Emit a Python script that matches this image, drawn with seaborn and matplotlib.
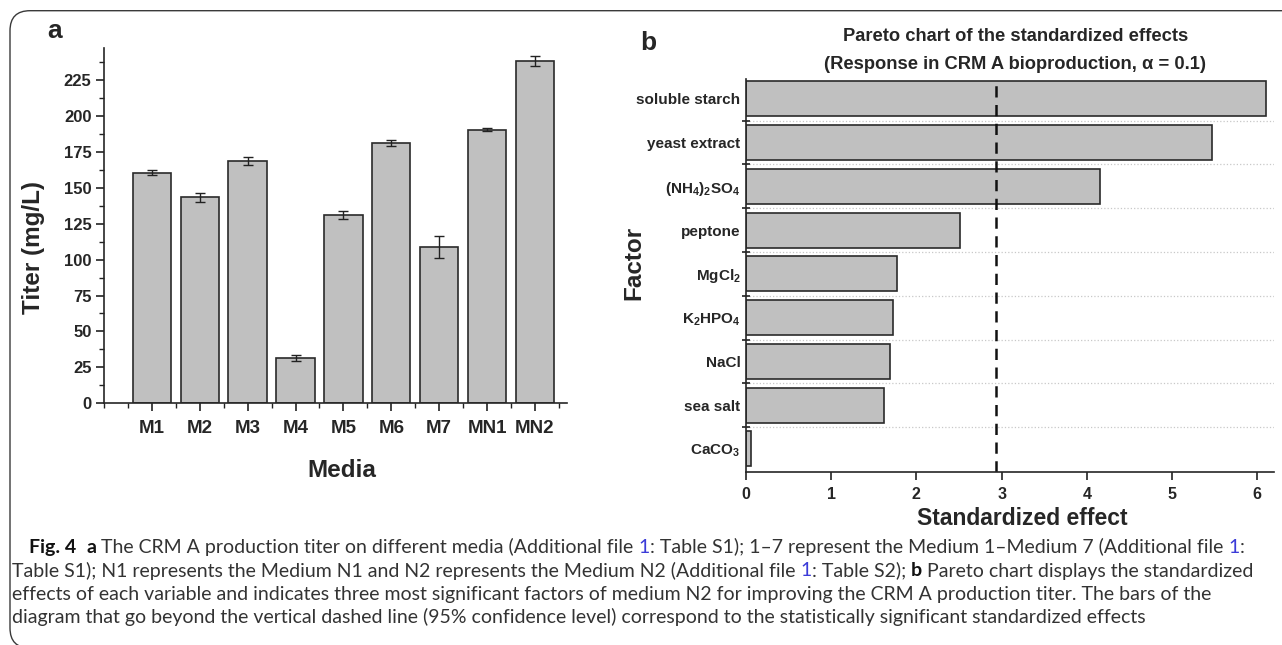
import numpy as np
import pandas as pd
import seaborn as sns
import matplotlib.pyplot as plt
from matplotlib.ticker import MultipleLocator
from matplotlib.patches import FancyBboxPatch
from matplotlib.text import Annotation
from matplotlib.transforms import IdentityTransform

# panel a: titer per medium
media = ['M1', 'M2', 'M3', 'M4', 'M5', 'M6', 'M7', 'MN1', 'MN2']
titer = [160.5, 143.3, 168.4, 31.3, 131.0, 181.0, 108.8, 190.2, 238.2]
titer_err = [1.5, 3.0, 2.8, 2.0, 3.0, 2.2, 7.8, 1.0, 3.3]

# panel b: pareto of standardized effects
factors = ['soluble starch', 'yeast extract', r'(NH$_4$)$_2$SO$_4$', 'peptone',
           r'MgCl$_2$', r'K$_2$HPO$_4$', 'NaCl', 'sea salt', r'CaCO$_3$']
effects = [6.10, 5.47, 4.16, 2.51, 1.77, 1.73, 1.69, 1.62, 0.06]
critical = 2.93

W, H = 1282, 645
BAR = '#c0c0c0'
EDGE = '#2a2a2a'

sns.set_style('ticks')
plt.rcParams['font.family'] = ['Liberation Sans', 'DejaVu Sans']
plt.rcParams['mathtext.fontset'] = 'custom'
plt.rcParams['mathtext.rm'] = 'Liberation Sans:bold'
plt.rcParams['mathtext.default'] = 'rm'
plt.rcParams['axes.linewidth'] = 1.2

fig = plt.figure(figsize=(W / 100, H / 100), dpi=100)

# ---------------- panel a
df_a = pd.DataFrame({'media': media, 'titer': titer})
ax1 = fig.add_axes([104 / W, 1 - 403.3 / H, 463 / W, 355 / H])
sns.barplot(data=df_a, x='media', y='titer', color=BAR, saturation=1, width=0.8,
            edgecolor=EDGE, linewidth=1.2, errorbar=None, ax=ax1)
ax1.errorbar(np.arange(len(media)), titer, yerr=titer_err, fmt='none',
             ecolor='#222222', elinewidth=1, capsize=3.5, capthick=1)
ax1.set_xlim(-1, 8.67)
ax1.set_ylim(0, 247)
ax1.set_yticks(np.arange(0, 226, 25))
ax1.yaxis.set_minor_locator(MultipleLocator(12.5))
ax1.set_xticks(np.arange(-1, 8.7, 0.5), minor=True)
ax1.tick_params(which='major', direction='out', length=6, width=1.2, color='#222')
ax1.tick_params(which='minor', direction='out', length=3.5, width=1.0, color='#222')
ax1.tick_params(axis='x', labelsize=13.5, pad=6)
ax1.tick_params(axis='y', labelsize=12, pad=3)
for lbl in ax1.get_xticklabels() + ax1.get_yticklabels():
    lbl.set_fontweight('bold')
sns.despine(ax=ax1)
ax1.set_xlabel('Media', fontsize=17.5, fontweight='bold', va='center')
ax1.xaxis.set_label_coords(0.514, -0.188)
ax1.set_ylabel('Titer (mg/L)', fontsize=17.5, fontweight='bold', va='center')
ax1.yaxis.set_label_coords(-0.153, 0.44)
fig.text(55 / W, 1 - 31 / H, 'a', fontsize=19, fontweight='bold', ha='center', va='center')

# ---------------- panel b
df_b = pd.DataFrame({'factor': factors, 'effect': effects})
ax2 = fig.add_axes([746 / W, 1 - 471.7 / H, 528.2 / W, 392.6 / H])
ax2.set_axisbelow(True)
ax2.set_yticks(np.arange(0.5, 8, 1), minor=True)
ax2.grid(axis='y', which='minor', color='#c8c8c8', linestyle=':', linewidth=0.9)
sns.barplot(data=df_b, x='effect', y='factor', orient='h', color=BAR, saturation=1,
            width=0.8, edgecolor=EDGE, linewidth=1.2, errorbar=None, ax=ax2)
ax2.axvline(critical, color='#111111', linestyle=(0, (4.5, 3)), linewidth=1.8)
ax2.set_xlim(0, 6.2)
ax2.set_ylim(8.52, -0.45)
ax2.set_xticks(range(0, 7))
ax2.set_yticks(np.arange(0.5, 8, 1), minor=True)
ax2.tick_params(axis='y', which='major', length=0, pad=4, labelsize=11)
ax2.tick_params(axis='y', which='minor', direction='inout', length=6, width=1.2, color='#222')
ax2.tick_params(axis='x', which='major', direction='out', length=6, width=1.2,
                color='#222', labelsize=11.5, pad=5)
for lbl in ax2.get_xticklabels() + ax2.get_yticklabels():
    lbl.set_fontweight('bold')
sns.despine(ax=ax2)
ax2.set_xlabel('Standardized effect', fontsize=16.5, fontweight='bold', va='center')
ax2.xaxis.set_label_coords(0.524, -0.118)
ax2.set_ylabel('Factor', fontsize=17.5, fontweight='bold', va='center')
ax2.yaxis.set_label_coords(-0.212, 0.532)
ax2.set_title('Pareto chart of the standardized effects\n'
              '(Response in CRM A bioproduction, \u03b1 = 0.1)',
              fontsize=13.2, fontweight='bold', linespacing=1.85, pad=7, x=0.51)
fig.text(648 / W, 1 - 43 / H, 'b', fontsize=19, fontweight='bold', ha='center', va='center')

# ---------------- frame
frame = FancyBboxPatch((10, -3), 1300, H - 10.7 + 3, boxstyle='round,pad=0,rounding_size=20',
                       transform=IdentityTransform(), facecolor='none',
                       edgecolor='#3a3a3a', linewidth=1.0)
fig.add_artist(frame)

# ---------------- caption
CAP = 14
cap_lines = [
    (29, 553, [('Fig. 4', 'b'), ('  ', 'r'), ('a', 'b'),
               (' The CRM A production titer on different media (Additional file ', 'r'),
               ('1', 'l'),
               (': Table S1); 1\u20137 represent the Medium 1\u2013Medium 7 (Additional file ', 'r'),
               ('1', 'l'), (':', 'r')]),
    (12, 576.5, [('Table S1); N1 represents the Medium N1 and N2 represents the Medium N2 (Additional file ', 'r'),
                 ('1', 'l'), (': Table S2); ', 'r'), ('b', 'b'),
                 (' Pareto chart displays the standardized', 'r')]),
    (12, 600, [('effects of each variable and indicates three most significant factors of medium N2 '
                'for improving the CRM A production titer. The bars of the', 'r')]),
    (12, 623.5, [('diagram that go beyond the vertical dashed line (95% confidence level) correspond '
                  'to the statistically significant standardized effects', 'r')]),
]
for x0, y0, parts in cap_lines:
    prev = None
    for txt, kind in parts:
        kw = dict(fontsize=CAP, family=['Lato', 'DejaVu Sans'], color='#333333')
        if kind == 'b':
            kw['fontweight'] = 'bold'
            kw['color'] = '#111111'
        if kind == 'l':
            kw['color'] = '#3b3bd8'
        if prev is None:
            prev = fig.text(x0 / W, 1 - y0 / H, txt, ha='left', va='baseline', **kw)
        else:
            ann = Annotation(txt, xy=(1, 0), xycoords=prev, ha='left', va='bottom', **kw)
            fig.add_artist(ann)
            prev = ann

fig.savefig('out.png', dpi=100)
